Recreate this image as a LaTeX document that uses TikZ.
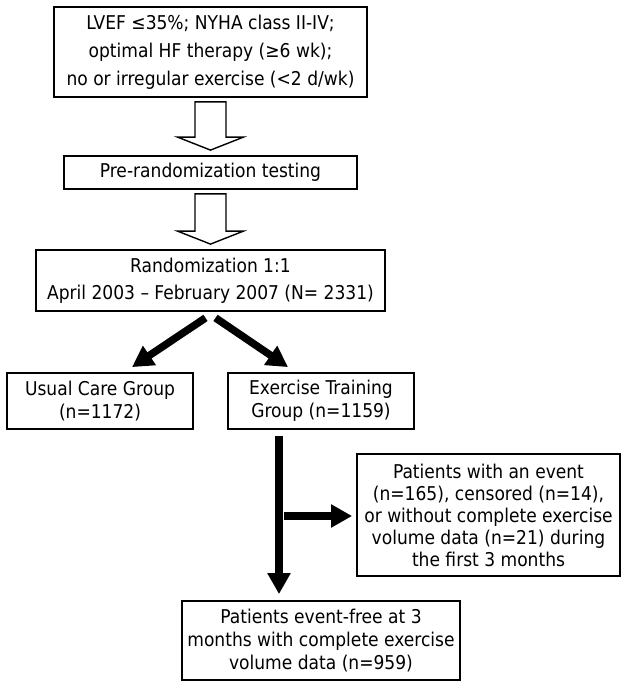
\documentclass[tikz,border=0pt]{standalone}
\usepackage{fontspec}
\setmainfont{DejaVu Sans Condensed}
\usetikzlibrary{calc,arrows.meta}

\tikzset{
  box/.style={draw,line width=1.8pt,align=center,inner sep=0pt,font=\fontsize{19}{23}\selectfont},
  hollowarrow/.style={draw,line width=1.4pt,line join=miter,fill=white},
  fatarrow/.style={line width=7.5pt,-{Triangle[width=22pt,length=21pt]}}
}

\newcommand{\hollowdown}[2]{%
  \draw[hollowarrow] ($(#1.south)+(-15.5,4)$) -- ($(#2.north)+(-15.5,-18)$) -- ++(-17.5,0)
    -- ($(#2.north)+(0,-5)$) -- ($(#2.north)+(33,-18)$) -- ++(-17.5,0)
    -- ($(#1.south)+(15.5,4)$) -- cycle;}

\begin{document}
\begin{tikzpicture}[x=1pt,y=-1pt]
    \useasboundingbox (0,0) rectangle (629,688);

    \node[box,minimum width=313,minimum height=90,font=\fontsize{19}{28}\selectfont] (elig) at (210.5,52)
      {LVEF ≤35\%; NYHA class II-IV;\\optimal HF therapy (≥6 wk);\\no or irregular exercise (<2 d/wk)};
    \node[box,minimum width=293,minimum height=33] (pretest) at (210.5,172.5) {Pre-randomization testing};
    \node[box,minimum width=349,minimum height=61,font=\fontsize{19}{27}\selectfont] (random) at (210.5,280.5)
      {Randomization 1:1\\April 2003 -- February 2007 (N= 2331)};
    \node[box,minimum width=186,minimum height=56] (usual) at (100,401) {Usual Care Group\\(n=1172)};
    \node[box,minimum width=186,minimum height=56] (exer) at (321,401) {Exercise Training\\Group (n=1159)};
    \node[box,minimum width=263,minimum height=122,font=\fontsize{19}{22}\selectfont] (excl) at (488.5,515)
      {Patients with an event\\(n=165), censored (n=14),\\or without complete exercise\\volume data (n=21) during\\the first 3 months};
    \node[box,minimum width=278,minimum height=79] (final) at (321,640.5)
      {Patients event-free at 3\\months with complete exercise\\volume data (n=959)};

    \hollowdown{elig}{pretest}
    \hollowdown{pretest}{random}

    \draw[fatarrow] ($(random.south)+(-5,6)$) -- ($(usual.north)+(32,-5)$);
    \draw[fatarrow] ($(random.south)+(5,6)$) -- ($(exer.north)+(-33,-5)$);
    \draw[fatarrow] ($(exer.south)+(-42,6)$) -- ($(final.north)+(-42,-6)$);
    \draw[fatarrow] ($(excl.west)+(-72,1)$) -- ($(excl.west)+(-4,1)$);
\end{tikzpicture}
\end{document}
